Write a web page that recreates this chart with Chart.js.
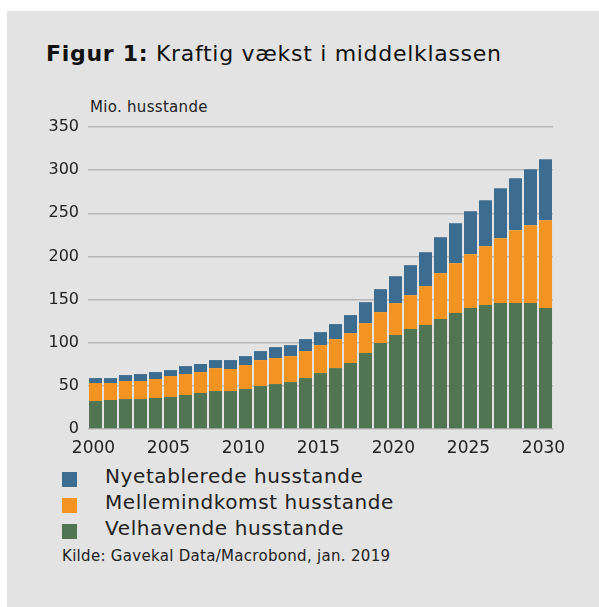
<!DOCTYPE html>
<html>
<head>
<meta charset="utf-8">
<script src="https://cdn.jsdelivr.net/npm/chart.js@4"></script>
<style>
  html, body { margin: 0; padding: 0; background: #ffffff; }
  body { width: 599px; height: 607px; position: relative; overflow: hidden; font-family: "DejaVu Sans", sans-serif; color: #222; }
  #panel { position: absolute; left: 7px; top: 11px; right: 0; bottom: 0; background: #e3e3e3; }
  #title { position: absolute; left: 46px; top: 41px; font-size: 22px; letter-spacing: 0.7px; white-space: nowrap; color: #111; }
  #title b { font-weight: bold; }
  #unit { position: absolute; left: 90px; top: 98px; font-size: 15px; letter-spacing: 0.3px; color: #222; white-space: nowrap; }
  #wrap { position: absolute; left: 40px; top: 100px; width: 530px; height: 360px; }
  #legend { position: absolute; left: 62px; top: 466px; }
  .row { position: relative; height: 26px; }
  .sw { position: absolute; left: 0; top: 6px; width: 15px; height: 15px; }
  .lt { position: absolute; left: 43px; top: -2px; font-size: 20px; letter-spacing: 0.6px; white-space: nowrap; color: #222; }
  #src { position: absolute; left: 62px; top: 547px; font-size: 15px; letter-spacing: 0.3px; color: #222; white-space: nowrap; }
</style>
</head>
<body>
<div id="panel"></div>
<div id="title"><b>Figur 1:</b> Kraftig vækst i middelklassen</div>
<div id="unit">Mio. husstande</div>
<div id="wrap"><canvas id="c" width="530" height="360"></canvas></div>
<div id="legend"></div>
<div id="src">Kilde: Gavekal Data/Macrobond, jan. 2019</div>
<script>
const years = ["2000","2001","2002","2003","2004","2005","2006","2007","2008","2009","2010",
  "2011","2012","2013","2014","2015","2016","2017","2018","2019","2020",
  "2021","2022","2023","2024","2025","2026","2027","2028","2029","2030"];
const velhavende = [32.4,33.6,34.7,34.7,35.9,37.0,39.4,41.7,44.0,44.0,46.3,
  49.8,52.1,54.4,59.0,64.8,70.6,76.4,88.0,99.6,108.8,
  115.8,120.4,127.4,134.3,140.1,143.6,145.9,145.9,145.9,140.1];
const mellemindkomst = [20.9,19.7,20.9,20.9,22.0,24.4,24.3,24.3,26.6,25.5,27.8,
  30.1,30.1,30.1,31.3,32.4,33.6,34.7,34.7,35.9,37.1,
  39.3,45.2,53.2,57.9,62.5,68.3,75.3,84.5,90.3,101.9];
const nyetablerede = [5.7,5.7,6.9,8.1,8.1,6.9,9.2,9.3,9.3,10.4,10.4,
  10.4,12.7,12.7,13.9,15.1,17.4,20.9,24.3,26.6,31.2,
  34.8,39.3,41.7,46.3,49.8,53.2,57.8,60.2,64.8,70.6];
const xTickLabels = ["2000","2005","2010","2015","2020","2025","2030"];
const yTickValues = [0,50,100,150,200,250,300,350];

const seriesNames = ["Nyetablerede husstande","Mellemindkomst husstande","Velhavende husstande"];
const seriesColors = ["#3d6c91","#f39422","#517552"];

const fontFam = '"DejaVu Sans", sans-serif';

const chart = new Chart(document.getElementById('c'), {
  type: 'bar',
  data: {
    labels: years,
    datasets: [
      { label: seriesNames[2], data: velhavende, backgroundColor: seriesColors[2], stack: 's' },
      { label: seriesNames[1], data: mellemindkomst, backgroundColor: seriesColors[1], stack: 's' },
      { label: seriesNames[0], data: nyetablerede, backgroundColor: seriesColors[0], stack: 's' }
    ]
  },
  options: {
    responsive: false,
    animation: false,
    devicePixelRatio: 1,
    layout: { padding: { top: 27, right: 17, left: 0, bottom: 0 } },
    datasets: { bar: { barPercentage: 0.87, categoryPercentage: 1.0, borderWidth: 0 } },
    plugins: { legend: { display: false }, tooltip: { enabled: false } },
    scales: {
      x: {
        stacked: true,
        grid: { display: false, drawTicks: false },
        border: { display: false },
        ticks: {
          autoSkip: false, maxRotation: 0, padding: 9, labelOffset: -2,
          color: '#222', font: { family: fontFam, size: 17 },
          callback: function(v, i) { const l = years[i]; return xTickLabels.includes(l) ? l : ''; }
        },
        afterFit: function(s) { s.height = 31; s.paddingLeft = 0; s.paddingRight = 0; }
      },
      y: {
        stacked: true,
        min: 0, max: 350,
        afterBuildTicks: function(s) { s.ticks = yTickValues.map(v => ({ value: v })); },
        grid: { color: '#b7b7b7', lineWidth: 1.5, drawTicks: false },
        border: { display: false },
        ticks: { padding: 9, color: '#222', font: { family: fontFam, size: 16 } },
        afterFit: function(s) { s.width = 48; s.paddingTop = 0; s.paddingBottom = 0; }
      }
    }
  }
});

const leg = document.getElementById('legend');
seriesNames.forEach((n, i) => {
  const r = document.createElement('div'); r.className = 'row';
  const sw = document.createElement('div'); sw.className = 'sw'; sw.style.background = seriesColors[i];
  const t = document.createElement('div'); t.className = 'lt'; t.textContent = n;
  r.appendChild(sw); r.appendChild(t); leg.appendChild(r);
});
</script>
</body>
</html>
